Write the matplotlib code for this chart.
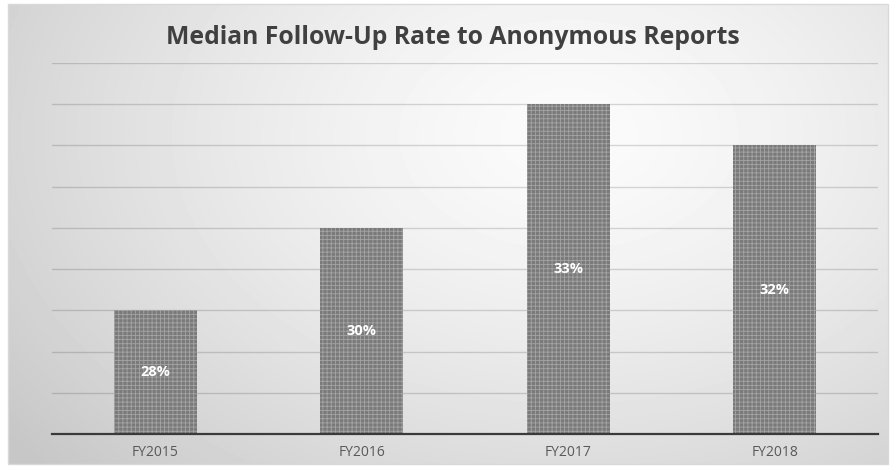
import matplotlib.pyplot as plt
import numpy as np

plt.rcParams['font.family'] = ['Open Sans', 'DejaVu Sans']
plt.rcParams['hatch.linewidth'] = 0.6

# data
years = ['FY2015', 'FY2016', 'FY2017', 'FY2018']
rates = [28, 30, 33, 32]
labels = ['28%', '30%', '33%', '32%']

W, H = 891, 467
fig = plt.figure(figsize=(W / 100, H / 100), dpi=100)

# gradient background of the chart area
bg = fig.add_axes([8 / W, 3 / H, (W - 11) / W, (H - 7) / H])
yy, xx = np.mgrid[0:460, 0:880]
cx, cy = 560, 130
r = np.sqrt(((xx - cx) / 620.0) ** 2 + ((yy - cy) / 420.0) ** 2)
r = np.clip(r / 1.15, 0, 1)
shade = (251 - 52 * r ** 1.4) / 255.0
bg.imshow(shade, cmap='gray', vmin=0, vmax=1, aspect='auto', interpolation='bilinear')
bg.set_axis_off()
fig.patches.append(plt.Rectangle((8 / W, 3 / H), (W - 11) / W, (H - 7) / H,
                                 transform=fig.transFigure, fill=False,
                                 edgecolor='#d9d9d9', lw=1))

ax = fig.add_axes([52 / W, 33 / H, 826 / W, 371 / H])
ax.set_facecolor('none')
x = np.arange(len(years))
bars = ax.bar(x, [v - 25 for v in rates], bottom=25, width=0.4,
              color='#7a7a7a', edgecolor='#a4a4a4', hatch='++++', lw=0, zorder=3)

for xi, v, lab in zip(x, rates, labels):
    ax.text(xi, (25 + v) / 2, lab, ha='center', va='center', color='white',
            fontsize=10.5, fontweight='bold', zorder=4)

ax.set_xlim(-0.5, 3.5)
ax.set_ylim(25, 34)
ax.set_yticks(np.arange(25, 35, 1))
ax.yaxis.grid(True, color='black', alpha=0.15, lw=1)
ax.set_axisbelow(True)
ax.tick_params(axis='y', left=False, labelleft=False)
ax.tick_params(axis='x', length=0, labelsize=10, labelcolor='#595959', pad=8)
ax.set_xticks(x)
ax.set_xticklabels(years)
for s in ['top', 'right', 'left']:
    ax.spines[s].set_visible(False)
ax.spines['bottom'].set_color('#3a3a3a')
ax.spines['bottom'].set_linewidth(1.6)
ax.spines['bottom'].set_zorder(5)

fig.text(453 / W, 1 - 37 / H, 'Median Follow-Up Rate to Anonymous Reports',
         ha='center', va='center', fontsize=17.8, fontweight='bold', color='#404040')

fig.savefig('out.png', dpi=100)
